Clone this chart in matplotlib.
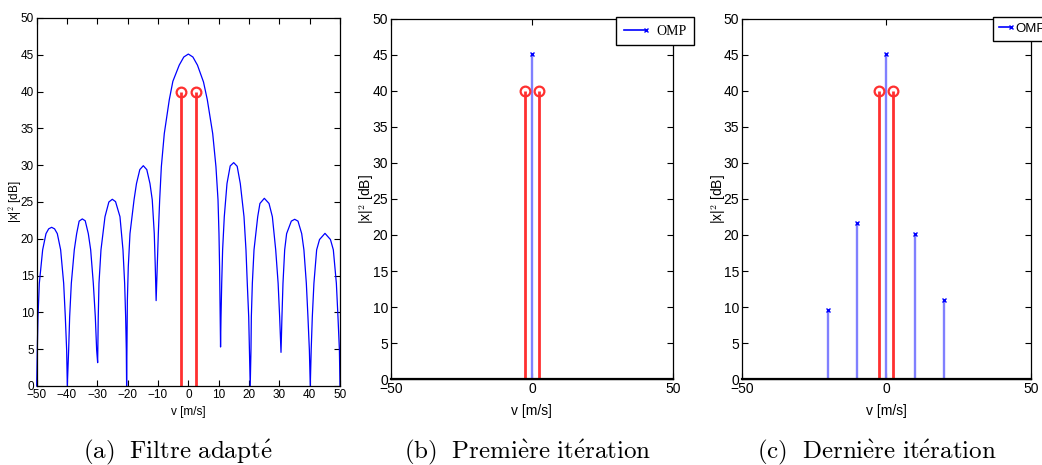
import matplotlib
matplotlib.use("Agg")
import matplotlib.pyplot as plt
from matplotlib.lines import Line2D
from matplotlib.legend_handler import HandlerLine2D

plt.rcParams["mathtext.fontset"] = "cm"

# (a) matched filter response
v_mf = [-50, -49.8, -49.57, -49.13, -48.03, -46.93, -46.05, -45.07, -44.1, -43.2, -42.1, -41.1, -40.56, -40.12, -39.9,
        -39.46, -39.13, -38.58, -37.6, -36.82, -36.0, -34.96, -34.0, -32.98, -32.2, -31.33, -30.67, -30.23, -29.9,
        -29.7, -29.46, -28.8, -27.48, -26.2, -25.07, -24.0, -22.54, -21.55, -21.0, -20.67, -20.45, -20.35,
        -20.1, -19.8, -19.24, -17.9, -17.1, -16.0, -14.85, -13.7, -12.65, -11.9, -11.23, -10.9, -10.62,
        -10.24, -9.9, -9.45, -8.9, -7.93, -6.28, -5.1, -3.0, -1.5, 0.0, 1.5, 3.0, 5.0, 6.25, 8.03, 9.1, 9.78,
        10.1, 10.3, 10.45, 10.62,
        10.77, 11.0, 11.3, 11.85, 12.74, 13.8, 14.95, 16.1, 17.13, 18.35, 19.0, 19.43, 19.9, 20.2, 20.4,
        20.65, 20.77, 21.1, 21.65, 22.87, 23.6, 25.05, 26.6, 27.7, 28.8, 29.6, 30.1, 30.55,
        30.86, 31.2, 31.76, 32.4, 33.95, 35.06, 36.15, 37.37, 38.1, 38.9, 39.43, 39.9, 40.2,
        40.5, 40.87, 41.4, 42.3, 43.25, 45.05, 46.85, 47.8, 48.8, 49.33, 49.8, 50]
db_mf = [0, 4.9, 9.4, 13.95, 18.5, 20.7, 21.35, 21.56, 21.35, 20.7, 18.5, 13.95, 9.4, 4.9, 0,
         4.9, 9.4, 13.95, 18.5, 20.7, 22.4, 22.7, 22.45, 20.7, 18.5, 13.95, 9.4, 4.9, 3.17,
         9.4, 13.95, 18.5, 23.0, 25.0, 25.37, 25.05, 23.0, 18.5, 13.95, 9.4, 4.9, 0,
         11.7, 16.2, 20.7, 25.3, 27.5, 29.4, 29.93, 29.4, 27.5, 25.3, 20.7, 16.2, 11.6,
         16.2, 20.7, 25.3, 29.8, 34.3, 38.9, 41.4, 43.6, 44.7, 45.1, 44.7, 43.6, 41.3, 38.9, 34.3, 29.8, 25.3,
         20.7, 16.2, 11.3, 5.3,
         9.4, 13.95, 18.5, 23.0, 27.5, 29.9, 30.35, 29.85, 27.5, 23.0, 18.5, 13.95, 9.4, 4.0, 0,
         4.9, 9.4, 13.95, 18.5, 23.0, 24.8, 25.5, 24.8, 23.0, 18.5, 13.95, 9.4, 4.57,
         9.4, 13.95, 18.5, 20.7, 22.4, 22.65, 22.4, 20.7, 18.5, 13.95, 9.4, 4.9, 0,
         4.9, 9.4, 13.95, 18.5, 19.9, 20.74, 19.9, 18.5, 13.95, 9.4, 4.9, 0]

# true targets
v_true = [-2.5, 2.5]
db_true = [40, 40]

# OMP estimates
v_omp_first = [0]
db_omp_first = [45.1]
v_omp_last = [-20, -10, 0, 10, 20]
db_omp_last = [9.6, 21.6, 45.05, 20.2, 11.0]

captions = [r"$\mathrm{(a)\ \ Filtre\ adapt\acute{e}}$",
            r"$\mathrm{(b)\ \ Premi\grave{e}re\ it\acute{e}ration}$",
            r"$\mathrm{(c)\ \ Derni\grave{e}re\ it\acute{e}ration}$"]

TICK_FONT = ["Liberation Sans", "DejaVu Sans"]
RED = "#ff3030"
BLUE_STEM = "#8080ff"


class MarkerAtEnd(HandlerLine2D):
    # matlab puts the legend marker at the right end of the sample line
    def create_artists(self, legend, orig_handle, xdescent, ydescent, width, height, fontsize, trans):
        arts = super().create_artists(legend, orig_handle, xdescent, ydescent, width, height, fontsize, trans)
        for a in arts:
            n = len(a.get_xdata())
            a.set_markevery([n - 1])
        return arts


def style_axes(ax, xticks, fs, ylab_x, xlab_y):
    ax.set_xlim(-50, 50)
    ax.set_ylim(0, 50)
    ax.set_xticks(xticks)
    ax.set_yticks(range(0, 51, 5))
    ax.tick_params(direction="in", top=True, right=True, length=4, width=0.8,
                   labelsize=fs, pad=2, colors="black")
    ax.set_xticklabels([str(t).replace("-", "\u2212") for t in xticks], family=TICK_FONT)
    ax.set_yticklabels([str(t) for t in range(0, 51, 5)], family=TICK_FONT)
    for s in ax.spines.values():
        s.set_linewidth(0.9)
    ax.set_xlabel("v [m/s]", family=TICK_FONT, fontsize=fs)
    ax.set_ylabel(r"|x|$^2$ [dB]", family=TICK_FONT, fontsize=fs)
    ax.yaxis.set_label_coords(ylab_x, 0.5)
    ax.xaxis.set_label_coords(0.5, xlab_y)
    ax.xaxis.label.set_va("center")
    ax.yaxis.label.set_va("center")


def red_stems(ax):
    cont = ax.stem(v_true, db_true, linefmt="-", markerfmt="o", basefmt=" ")
    cont.stemlines.set_color(RED)
    cont.stemlines.set_linewidth(2)
    cont.markerline.set_markerfacecolor("none")
    cont.markerline.set_markeredgecolor(RED)
    cont.markerline.set_markeredgewidth(1.6)
    cont.markerline.set_markersize(7)
    cont.markerline.set_zorder(5)


def omp_stems(ax, v, db):
    cont = ax.stem(v, db, linefmt="-", markerfmt="x", basefmt="k-")
    cont.stemlines.set_color(BLUE_STEM)
    cont.stemlines.set_linewidth(1.7)
    cont.markerline.set_color("blue")
    cont.markerline.set_markersize(3)
    cont.markerline.set_markeredgewidth(1)
    cont.baseline.set_linewidth(1.6)
    cont.baseline.set_xdata([-50, 50])
    cont.baseline.set_clip_on(False)
    return cont


fig = plt.figure(figsize=(10.42, 4.65), dpi=100)

# (a)
ax1 = fig.add_axes([0.0352, 0.1699, 0.2911, 0.7914])
ax1.plot(v_mf, db_mf, color="blue", lw=0.9, clip_on=False)
red_stems(ax1)
style_axes(ax1, list(range(-50, 51, 10)), 8.5, -0.072, -0.071)

# (b)
ax2 = fig.add_axes([0.3750, 0.1843, 0.2709, 0.7759])
red_stems(ax2)
omp_stems(ax2, v_omp_first, db_omp_first)
style_axes(ax2, [-50, 0, 50], 10, -0.085, -0.088)
h = Line2D([], [], color="blue", marker="x", markersize=3, lw=1.2)
leg = ax2.legend([h], ["OMP"], loc="upper left", bbox_to_anchor=(0.798, 1.004), numpoints=1,
                 prop={"family": "Liberation Serif", "size": 10}, frameon=True, fancybox=False,
                 edgecolor="black", framealpha=1, borderpad=0.55, handlelength=1.6, handletextpad=0.75,
                 borderaxespad=0, handler_map={Line2D: MarkerAtEnd()})
leg.get_frame().set_linewidth(1.0)

# (c)
ax3 = fig.add_axes([0.7118, 0.1843, 0.2774, 0.7759])
red_stems(ax3)
omp_stems(ax3, v_omp_last, db_omp_last)
style_axes(ax3, [-50, 0, 50], 10, -0.08, -0.088)
leg3 = ax3.legend([h], ["OMP"], loc="upper left", bbox_to_anchor=(0.87, 1.005), numpoints=1,
                  prop={"family": TICK_FONT, "size": 9.5}, frameon=True, fancybox=False,
                  edgecolor="black", framealpha=1, borderpad=0.45, handlelength=0.9, handletextpad=0.3,
                  borderaxespad=0, handler_map={Line2D: MarkerAtEnd()})
leg3.get_frame().set_linewidth(1.0)

# captions
for x, txt in zip([178, 528, 877], captions):
    fig.text(x / 1042, 1 - 458 / 465, txt, ha="center", va="baseline", fontsize=18)

fig.savefig("out.png", dpi=100)
